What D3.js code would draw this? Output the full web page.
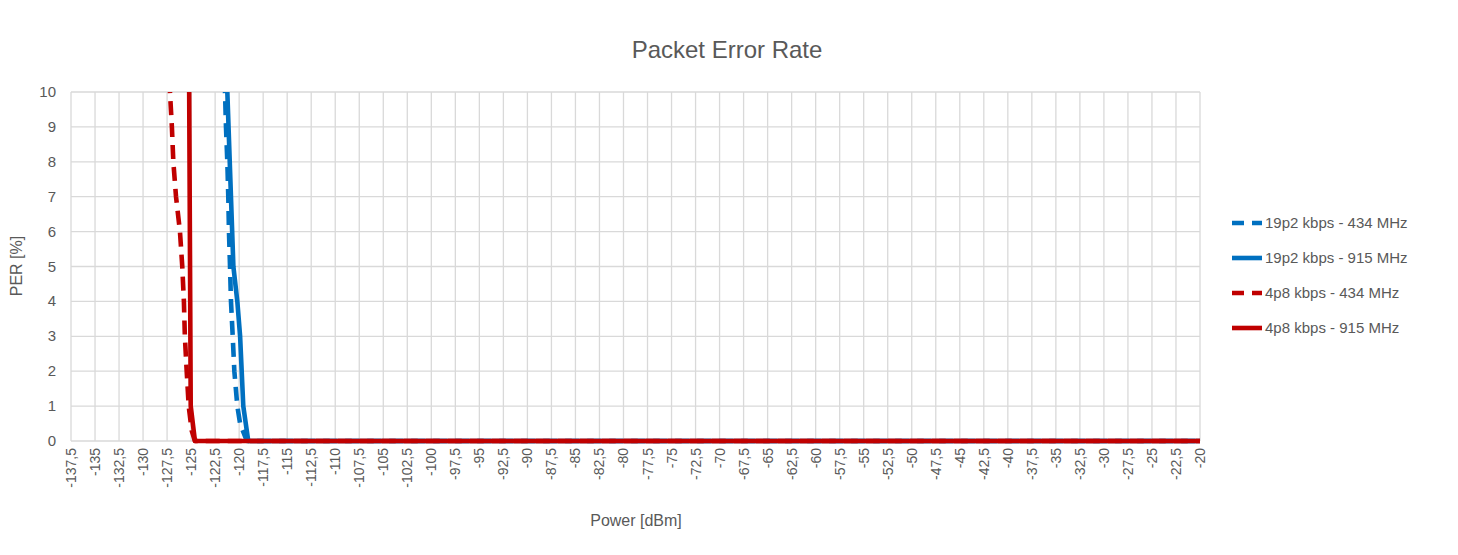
<!DOCTYPE html><html><head><meta charset="utf-8"><script src="https://cdn.jsdelivr.net/npm/d3@7"></script>
<style>body{margin:0;background:#fff}text{font-family:"Liberation Sans",Arial,sans-serif;fill:#595959}</style></head><body>
<svg id="c" width="1458" height="555"></svg>
<script>
const xTicks = d3.range(0,48).map(i=>-137.5+i*2.5);
const yTicks = d3.range(0,11);
const seriesNames = ["19p2 kbps - 434 MHz","19p2 kbps - 915 MHz","4p8 kbps - 434 MHz","4p8 kbps - 915 MHz"];
const colors = ["#0070C0","#0070C0","#C00000","#C00000"];
const dashed = [true,false,true,false];
const b434x = [-121.6,-121.47,-121.37,-121.23,-121.13,-121.06,-120.95,-120.85,-120.67,-120.5,-120.19,-119.9,-119.2,-20];
const b434y = [11,10,9,8,7,6,5,4,3,2,1,0.5,0,0];
const b915x = [-121.35,-121.23,-120.6,-120.19,-119.9,-119.57,-119.05,-20];
const b915y = [11,10,5,4,3,1,0,0];
const r434x = [-127.3,-127.2,-127.0,-126.85,-126.57,-126.16,-125.92,-125.75,-125.65,-125.46,-125.25,-124.94,-124.6,-20];
const r434y = [11,10,9,8,7,6,5,4,3,2,1,0.3,0,0];
const r915x = [-125.2,-125.2,-125.04,-124.6,-20];
const r915y = [11,10,1,0,0];
const xs=[b434x,b915x,r434x,r915x], ys=[b434y,b915y,r434y,r915y];

const svg=d3.select("#c");
const x=d3.scaleLinear().domain([-137.5,-20]).range([71,1200]);
const y=d3.scaleLinear().domain([0,10]).range([441,92]);
svg.append("g").selectAll("line").data(xTicks).join("line").attr("x1",d=>x(d)).attr("x2",d=>x(d)).attr("y1",92).attr("y2",441).attr("stroke","#d9d9d9").attr("stroke-width",1.3);
svg.append("g").selectAll("line").data(yTicks).join("line").attr("x1",71).attr("x2",1200).attr("y1",d=>y(d)).attr("y2",d=>y(d)).attr("stroke","#d9d9d9").attr("stroke-width",1.3);
svg.append("g").selectAll("text").data(yTicks).join("text").attr("x",56).attr("y",d=>y(d)+5).attr("text-anchor","end").attr("font-size",15).text(d=>d);
svg.append("g").selectAll("text").data(xTicks).join("text").attr("transform",d=>`translate(${x(d)+5},448) rotate(-90)`).attr("text-anchor","end").attr("font-size",14).text(d=>String(d).replace(".",","));
svg.append("defs").append("clipPath").attr("id","cp").append("rect").attr("x",60).attr("y",92).attr("width",1150).attr("height",360);
const g=svg.append("g").attr("clip-path","url(#cp)");
const line=d3.line().x(d=>x(d[0])).y(d=>y(d[1]));
[0,1,2,3].forEach(i=>{
 g.append("path").attr("d",line(xs[i].map((v,j)=>[v,ys[i][j]]))).attr("fill","none").attr("stroke",colors[i]).attr("stroke-width",4.6).attr("stroke-linejoin","round").attr("stroke-dasharray",dashed[i]?"14,8":null);
});
svg.append("text").attr("x",727).attr("y",58).attr("text-anchor","middle").attr("font-size",24).text("Packet Error Rate");
svg.append("text").attr("x",636).attr("y",526).attr("text-anchor","middle").attr("font-size",16).text("Power [dBm]");
svg.append("text").attr("transform","translate(22,266) rotate(-90)").attr("text-anchor","middle").attr("font-size",16).text("PER [%]");
const lg=svg.append("g").selectAll("g").data(seriesNames).join("g").attr("transform",(d,i)=>`translate(1232,${223+i*35})`);
lg.append("line").attr("x1",0).attr("x2",30).attr("stroke",(d,i)=>colors[i]).attr("stroke-width",4.6).attr("stroke-dasharray",(d,i)=>dashed[i]?"12,8":null);
lg.append("text").attr("x",33).attr("y",5).attr("font-size",15).text(d=>d);
</script></body></html>
